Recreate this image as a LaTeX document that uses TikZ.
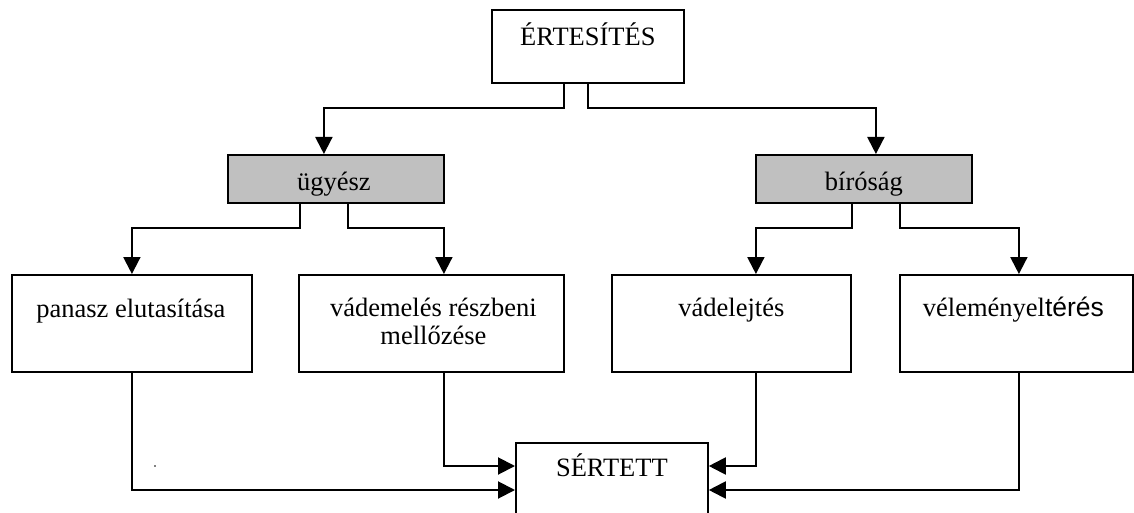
\documentclass[tikz,border=0pt]{standalone}
\usepackage{fontspec}
\setmainfont{Liberation Serif}
\newfontfamily\arialfont{Liberation Sans}
\usetikzlibrary{arrows.meta}
\definecolor{boxgrey}{HTML}{C0C0C0}
\begin{document}
\begin{tikzpicture}[x=1pt,y=-1pt,
  box/.style={draw, line width=1.8pt, inner sep=0pt, anchor=north west},
  greybox/.style={box, fill=boxgrey},
  lbl/.style={font=\fontsize{26.5}{29}\selectfont, anchor=base, inner sep=0pt},
  conn/.style={line width=2pt},
  arr/.style={conn, -{Triangle[length=17pt,width=17pt]}}]
\useasboundingbox (0,0) rectangle (1134,513);
\clip (0,0) rectangle (1134,513);

% boxes
\node[box, minimum width=192pt, minimum height=73pt] (ert) at (491,9) {};
\node[greybox, minimum width=216pt, minimum height=48pt] (ugy) at (227,154) {};
\node[greybox, minimum width=216pt, minimum height=48pt] (bir) at (755,154) {};
\node[box, minimum width=240pt, minimum height=97pt] (pan) at (11,274) {};
\node[box, minimum width=265pt, minimum height=97pt] (vad) at (298,274) {};
\node[box, minimum width=239pt, minimum height=97pt] (vel) at (611,274) {};
\node[box, minimum width=233pt, minimum height=97pt] (vlm) at (899,274) {};
\node[box, minimum width=192pt, minimum height=110pt] (sert) at (515,442) {};

% labels
\node[lbl] (ert-t) at ([yshift=-37pt]ert.north) {ÉRTESÍTÉS};
\node[lbl] (ugy-t) at ([yshift=-36pt,xshift=-2pt]ugy.north) {ügyész};
\node[lbl] (bir-t) at ([yshift=-36pt]bir.north) {bíróság};
\node[lbl] (pan-t) at ([yshift=-43pt,xshift=-1pt]pan.north) {panasz elutasítása};
\node[lbl] (vad-t1) at ([yshift=-42pt,xshift=2pt]vad.north) {vádemelés részbeni};
\node[lbl] (vad-t2) at ([yshift=-70pt,xshift=2pt]vad.north) {mellőzése};
\node[lbl] (vel-t) at ([yshift=-42pt]vel.north) {vádelejtés};
\node[lbl] (vlm-t) at ([yshift=-42pt,xshift=-3pt]vlm.north) {véleményel{\arialfont térés}};
\node[lbl] (sert-t) at ([yshift=-34pt]sert.north) {SÉRTETT};
\node[circle, fill, inner sep=0pt, minimum size=1.8pt] (dot) at (155,466) {};

% connectors from ÉRTESÍTÉS
\draw[arr] ([xshift=-24pt]ert.south) -- ++(0,24) -| ([xshift=-12pt]ugy.north);
\draw[arr] (ert.south) -- ++(0,24) -| ([xshift=12pt]bir.north);

% connectors from ügyész and bíróság
\draw[arr] ([xshift=-36pt]ugy.south) -- ++(0,24) -| (pan.north);
\draw[arr] ([xshift=12pt]ugy.south) -- ++(0,24) -| ([xshift=12.5pt]vad.north);
\draw[arr] ([xshift=-12pt]bir.south) -- ++(0,24) -| ([xshift=24.5pt]vel.north);
\draw[arr] ([xshift=36pt]bir.south) -- ++(0,24) -| ([xshift=2.5pt]vlm.north);

% connectors to SÉRTETT
\draw[arr] (pan.south) |- ([yshift=-48pt]sert.north west);
\draw[arr] ([xshift=12.5pt]vad.south) |- ([yshift=-24pt]sert.north west);
\draw[arr] ([xshift=24.5pt]vel.south) |- ([yshift=-24pt]sert.north east);
\draw[arr] ([xshift=2.5pt]vlm.south) |- ([yshift=-48pt]sert.north east);
\end{tikzpicture}
\end{document}
